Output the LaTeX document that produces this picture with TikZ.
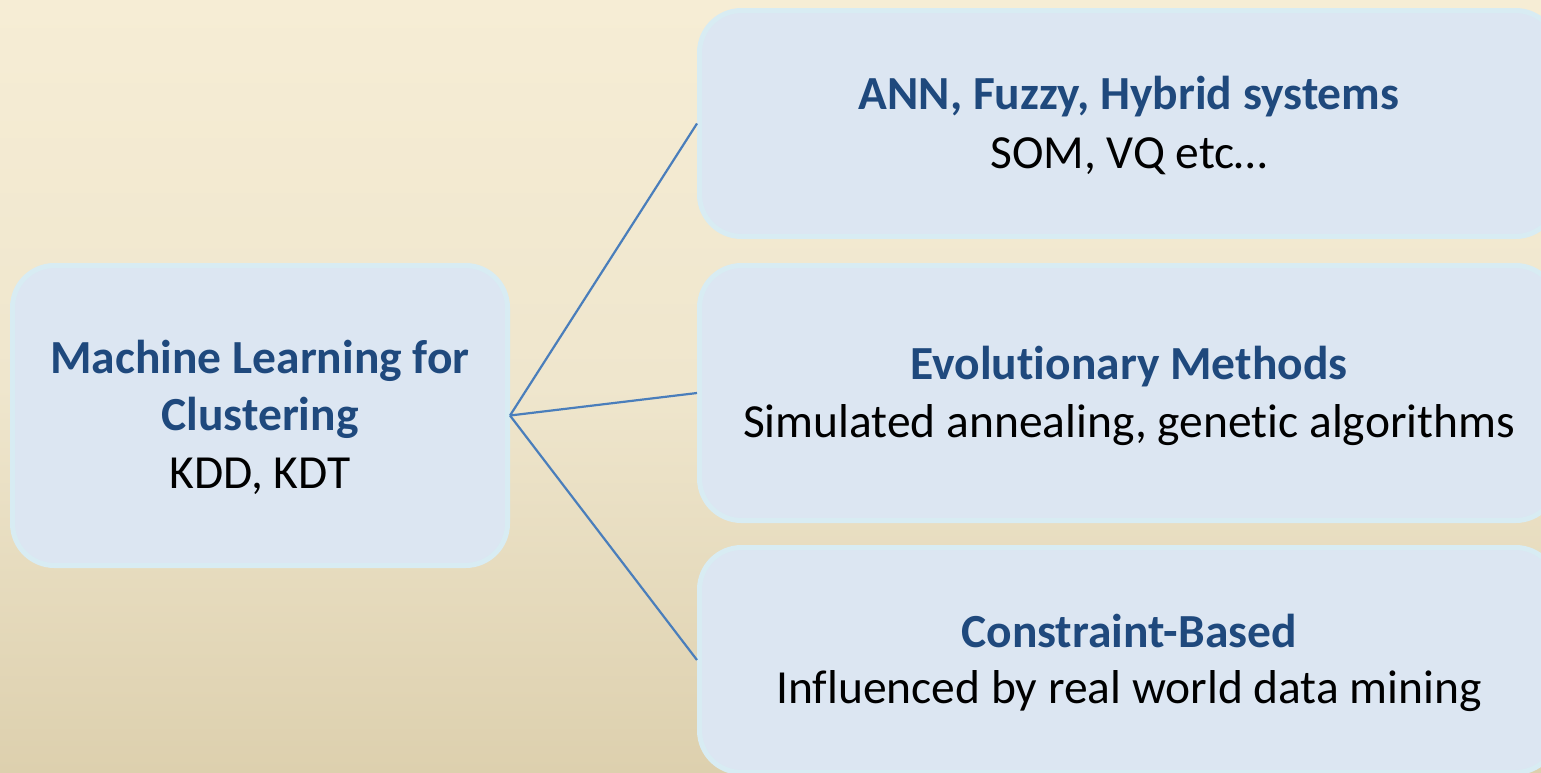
\documentclass[tikz,border=0pt]{standalone}
\usepackage{fontspec}
\setmainfont[Ligatures=NoCommon]{Carlito}
\definecolor{bgtop}{RGB}{246,237,213}
\definecolor{bgmid}{RGB}{239,230,205}
\definecolor{bgbot}{RGB}{221,208,174}
\definecolor{boxfill}{RGB}{220,230,242}
\definecolor{boxline}{RGB}{216,236,243}
\definecolor{headblue}{RGB}{31,73,125}
\definecolor{linkblue}{RGB}{74,126,187}
\tikzset{
  panel/.style={rectangle, rounded corners=42pt, fill=boxfill, draw=boxline,
    line width=5pt, inner sep=0pt},
  head/.style={anchor=base, inner sep=0pt, text=headblue,
    font=\fontsize{47.5}{57}\selectfont\bfseries},
  body/.style={anchor=base, inner sep=0pt, text=black,
    font=\fontsize{47.5}{57}\selectfont},
  link/.style={draw=linkblue, line width=2.2pt}
}
\begin{document}
\begin{tikzpicture}[x=1pt,y=-1pt]
  \useasboundingbox (0,0) rectangle (1541,772);
  \clip (0,0) rectangle (1541,772);
  % page background
  \shade[top color=bgtop, bottom color=bgbot, middle color=bgmid]
    (0,0) rectangle (1541,772);

  % boxes
  \node[panel, minimum width=495pt, minimum height=300pt] (ml) at (260,415.5) {};
  \node[panel, minimum width=858pt, minimum height=226pt] (ann) at (1128.5,123.5) {};
  \node[panel, minimum width=858pt, minimum height=255pt] (evo) at (1128.5,393) {};
  \node[panel, minimum width=858pt, minimum height=225pt] (con) at (1128.5,660) {};

  % connectors
  \draw[link] (ml.east) -- (ann.west);
  \draw[link] (ml.east) -- (evo.west);
  \draw[link] (ml.east) -- (con.west);

  % texts
  \node[head] (mlA) at (260,373) {Machine Learning for};
  \node[head] (mlB) at (260,430) {Clustering};
  \node[body] (mlC) at (260,488) {KDD, KDT};

  \node[head] (annA) at (1129,109) {ANN, Fuzzy, Hybrid systems};
  \node[body] (annB) at (1129,168) {SOM, VQ etc…};

  \node[head] (evoA) at (1129,379) {Evolutionary Methods};
  \node[body] (evoB) at (1129,437) {Simulated annealing, genetic algorithms};

  \node[head] (conA) at (1129,647) {Constraint-Based};
  \node[body] (conB) at (1129,703) {Influenced by real world data mining};
\end{tikzpicture}
\end{document}
